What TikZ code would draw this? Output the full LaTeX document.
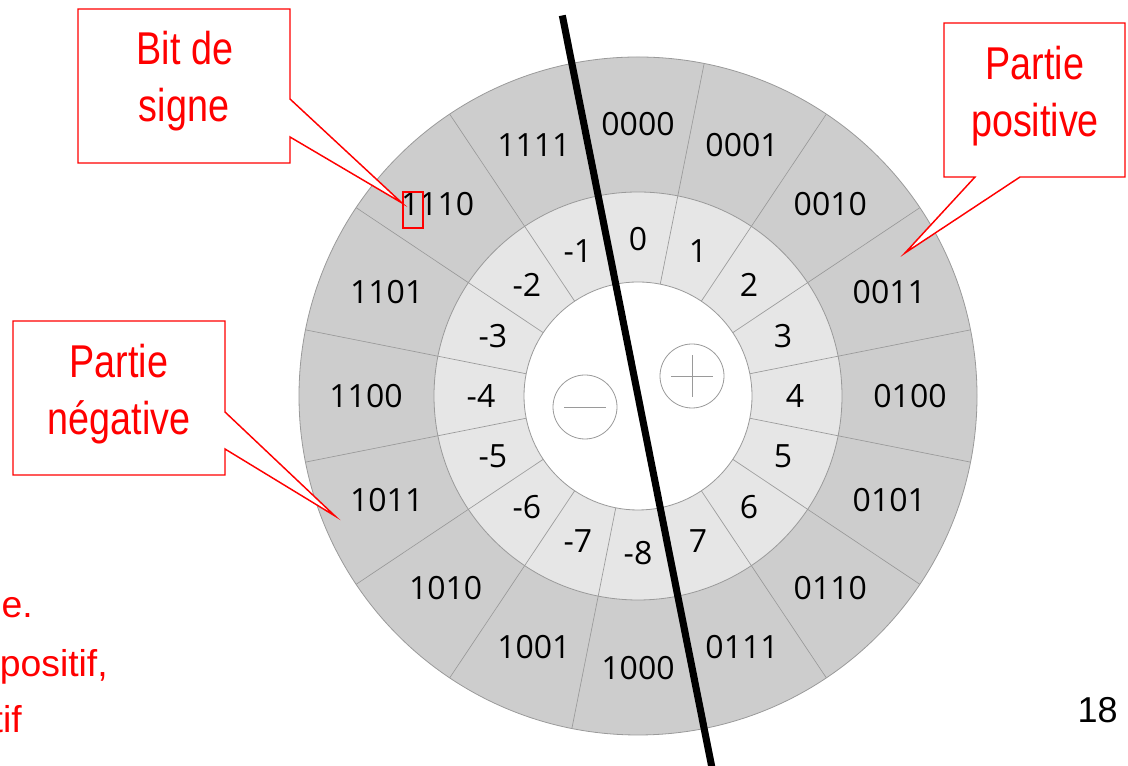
\documentclass[tikz,border=0pt]{standalone}
\usepackage{fontspec}
\setmainfont{Open Sans}
\newfontfamily\calloutfont[FakeStretch=0.82]{Liberation Sans}
\newfontfamily\notefont{Liberation Sans}
\newfontfamily\pagefont{Liberation Sans}
\usetikzlibrary{calc}
\definecolor{ringout}{HTML}{CDCDCD}
\definecolor{ringin}{HTML}{E6E6E6}
\definecolor{sepgray}{HTML}{9A9A9A}
\definecolor{callred}{HTML}{FF0000}
\begin{document}
\begin{tikzpicture}[x=0.75pt,y=0.75pt,
  ringline/.style={draw=sepgray, line width=0.6pt},
  sepline/.style={draw=sepgray, line width=0.5pt},
  codelabel/.style={font=\fontsize{24}{28}\selectfont, text=black, inner sep=0pt},
  callout/.style={draw=callred, fill=white, line width=1.1pt, line join=miter},
  calltext/.style={text=callred, font=\calloutfont\fontsize{34.5}{40}\selectfont, anchor=base, inner sep=0pt},
  notetext/.style={text=callred, font=\notefont\fontsize{28}{32}\selectfont, anchor=base east, inner sep=0pt},
  divider/.style={draw=black, line width=5.3pt}
]
\useasboundingbox (0,0) rectangle (1128,766);
\clip (0,0) rectangle (1128,766);
\coordinate (c) at (638,370);
% rings
\fill[ringout] (c) circle[radius=339];
\fill[ringin] (c) circle[radius=204];
\fill[white] (c) circle[radius=114];
\foreach \k in {0,...,15}
  \draw[sepline] ($(c)+(11.25+22.5*\k:114)$) -- ($(c)+(11.25+22.5*\k:339)$);
\draw[ringline] (c) circle[radius=339];
\draw[ringline] (c) circle[radius=204];
\draw[ringline] (c) circle[radius=114];
% outer codes
\foreach \k/\b in {0/0000,1/0001,2/0010,3/0011,4/0100,5/0101,6/0110,7/0111,8/1000,9/1001,10/1010,11/1011,12/1100,13/1101,15/1111}
  \node[codelabel] (o\k) at ($(c)+(90-22.5*\k:272)$) {\b};
\node[codelabel, xshift=-6] (o14) at ($(c)+(135:272)$) {1110};
% inner values
\foreach \k/\v in {0/0,1/1,2/2,3/3,4/4,5/5,6/6,7/7,8/-8,9/-7,10/-6,11/-5,12/-4,13/-3,14/-2,15/-1}
  \node[codelabel] (i\k) at ($(c)+(90-22.5*\k:157)$) {\v};
% plus / minus symbols
\coordinate (mc) at (585,359);
\coordinate (pc) at (692,390);
\draw[ringline] (mc) circle[radius=32];
\draw[ringline] ($(mc)+(-21,0)$) -- ($(mc)+(21,0)$);
\draw[ringline] (pc) circle[radius=32];
\draw[ringline] ($(pc)+(-21,0)$) -- ($(pc)+(21,0)$);
\draw[ringline] ($(pc)+(0,-21)$) -- ($(pc)+(0,21)$);
% dividing line
\draw[divider] ($(c)+(101.25:388)$) -- ($(c)+(281.25:430)$);
% callout: bit de signe
\coordinate (tipbit) at (402,563);
\draw[callout] (78,757) -- (290,757) -- (290,667) -- (tipbit) -- (290,629) -- (290,603) -- (78,603) -- cycle;
\draw[draw=callred, line width=1.1pt] (403,574) rectangle (423,538);
\node[calltext] (bit1) at (185,701) {Bit de};
\node[calltext] (bit2) at (184,644) {signe};
% callout: partie positive
\coordinate (tippos) at (905,513);
\draw[callout] (944,743) -- (1125,743) -- (1125,589) -- (1020,589) -- (tippos) -- (975,589) -- (944,589) -- cycle;
\node[calltext] (pos1) at (1035,686) {Partie};
\node[calltext] (pos2) at (1035,629) {positive};
% callout: partie negative
\coordinate (tipneg) at (335,250);
\draw[callout] (13,445) -- (225,445) -- (225,354) -- (tipneg) -- (225,317) -- (225,291) -- (13,291) -- cycle;
\node[calltext] (neg1) at (119,388) {Partie};
\node[calltext] (neg2) at (119,331) {négative};
% cut-off text at bottom left
\node[notetext] (n1) at (33,148) {e.};
\node[notetext] (n2) at (108,89) {positif,};
\node[notetext] (n3) at (22,33) {tif};
% page number
\node[font=\pagefont\fontsize{27}{30}\selectfont, anchor=base east, inner sep=0pt] (page) at (1118,43) {18};
\end{tikzpicture}
\end{document}
